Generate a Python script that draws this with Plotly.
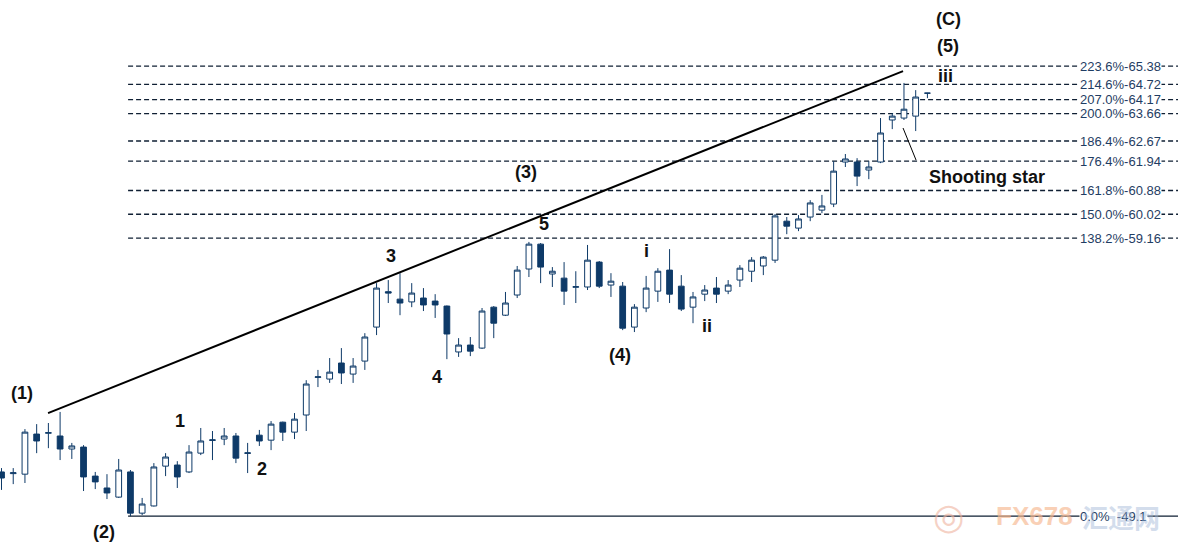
import plotly.graph_objects as go

# ---- candle data (index, open, high, low, close) ----
opens = [50.70, 50.64, 50.62, 52.07, 52.10, 52.00, 51.53, 51.60, 50.55, 50.12,
         49.79, 50.70, 49.21, 49.47, 50.91, 50.95, 50.70, 51.38, 51.84, 51.89,
         52.00, 51.37, 52.03, 51.85, 52.50, 52.14, 52.76, 54.12, 54.06, 54.64,
         54.24, 54.71, 55.94, 57.22, 56.95, 56.85, 56.99, 56.88, 56.70, 55.04,
         55.29, 55.18, 56.66, 56.37, 57.10, 58.04, 58.94, 57.86, 57.71, 57.38,
         57.39, 58.29, 57.46, 57.42, 55.94, 56.63, 57.24, 58.00, 57.42, 56.66,
         57.13, 57.35, 57.24, 57.64, 57.96, 58.15, 58.36, 59.77, 59.52, 59.92,
         60.17, 60.39, 61.91, 61.91, 61.62, 61.91, 63.43, 63.50, 63.57, 64.40]
highs = [50.84, 50.84, 52.25, 52.43, 52.47, 52.87, 51.75, 51.67, 50.70, 50.62,
         51.17, 50.77, 49.76, 51.02, 51.38, 51.09, 51.67, 52.29, 52.18, 52.29,
         52.11, 51.75, 52.22, 52.54, 52.52, 52.83, 54.02, 54.39, 54.82, 55.18,
         54.82, 55.72, 57.53, 57.64, 57.89, 57.53, 57.35, 57.13, 56.72, 55.54,
         55.58, 56.63, 56.70, 57.21, 58.15, 59.02, 58.98, 58.11, 58.29, 57.96,
         58.91, 58.33, 57.89, 57.57, 56.77, 57.79, 58.07, 58.76, 57.82, 57.21,
         57.46, 57.75, 57.64, 58.18, 58.47, 58.51, 60.03, 59.92, 59.99, 60.53,
         60.72, 61.94, 62.20, 62.05, 61.94, 63.50, 63.68, 64.77, 64.51, 64.41]
lows = [50.05, 50.26, 50.30, 51.38, 51.56, 51.13, 51.17, 50.01, 50.08, 49.72,
        49.76, 49.10, 49.14, 49.45, 50.55, 50.12, 50.66, 51.31, 51.13, 51.67,
        51.02, 50.66, 51.64, 51.49, 51.82, 51.89, 52.18, 53.77, 53.92, 53.88,
        53.92, 54.39, 55.65, 56.81, 56.37, 56.66, 56.52, 56.27, 54.78, 54.86,
        54.89, 55.15, 55.54, 56.34, 56.99, 57.75, 57.53, 57.39, 56.74, 56.81,
        57.28, 57.35, 57.03, 55.83, 55.76, 56.48, 56.85, 56.81, 56.52, 56.08,
        56.88, 56.81, 57.13, 57.39, 57.57, 57.82, 58.26, 59.30, 59.41, 59.77,
        60.06, 60.28, 61.73, 61.04, 61.29, 61.87, 63.10, 63.43, 63.03, 64.22]
closes = [50.48, 50.67, 52.14, 51.82, 52.12, 51.53, 51.64, 50.52, 50.34, 49.94,
          50.77, 49.21, 49.54, 50.88, 51.24, 50.52, 51.42, 51.82, 51.86, 52.00,
          51.20, 51.39, 51.82, 52.43, 52.14, 52.61, 53.88, 54.14, 54.31, 54.28,
          54.53, 55.58, 57.35, 57.17, 56.81, 57.17, 56.74, 56.74, 55.69, 55.29,
          55.07, 56.52, 56.08, 56.81, 58.00, 58.94, 58.11, 57.96, 57.24, 57.40,
          58.36, 57.42, 57.60, 55.90, 56.66, 57.35, 57.96, 57.13, 56.59, 57.03,
          57.28, 57.13, 57.46, 58.07, 58.36, 58.47, 59.96, 59.59, 59.85, 60.43,
          60.32, 61.58, 62.02, 61.40, 61.73, 62.96, 63.57, 63.82, 64.26, 64.40]
bars = list(range(len(opens)))

# ---- Fibonacci levels ----
fib_pct = ["223.6%", "214.6%", "207.0%", "200.0%", "186.4%", "176.4%", "161.8%", "150.0%", "138.2%"]
fib_val = [65.38, 64.72, 64.17, 63.66, 62.67, 61.94, 60.88, 60.02, 59.16]
base_pct = "0.0%"
base_val = 49.1
fib_start = 10.8  # bar index where the levels start

# ---- trend line (bar index, price) ----
trend_x = [3.97, 76.92]
trend_y = [52.83, 65.20]

# ---- shooting star pointer ----
star_x = [76.92, 78.03]
star_y = [63.14, 61.98]

# ---- wave labels (text, bar index, price, anchor) ----
wave_labels = [
    ("(1)", 1.75, 53.55, "center"), ("(2)", 8.75, 48.53, "center"),
    ("1", 15.23, 52.54, "center"), ("2", 22.23, 50.80, "center"),
    ("3", 33.23, 58.51, "center"), ("4", 37.16, 54.13, "center"),
    ("(3)", 44.75, 61.54, "center"), ("5", 46.29, 59.67, "center"),
    ("(4)", 52.77, 54.93, "center"), ("i", 54.99, 58.69, "center"),
    ("ii", 60.20, 55.98, "center"), ("(C)", 80.76, 67.08, "center"),
    ("(5)", 80.76, 66.10, "center"), ("iii", 80.50, 65.02, "center"),
    ("Shooting star", 78.97, 61.37, "left"),
]

NAVY = "#0e3a68"
LINE = "#0f1f33"
LABEL = "#1f3d63"
FONT = "Arial, Liberation Sans, sans-serif"

fig = go.Figure()
fig.add_trace(go.Candlestick(
    x=bars, open=opens, high=highs, low=lows, close=closes,
    increasing=dict(fillcolor="white", line=dict(color=NAVY, width=1)),
    decreasing=dict(fillcolor=NAVY, line=dict(color=NAVY, width=1)),
    whiskerwidth=0, showlegend=False, hoverinfo="skip",
))

x_end = 101
for v in fib_val:
    fig.add_shape(type="line", x0=fib_start, x1=x_end, y0=v, y1=v, xref="x", yref="y",
                  line=dict(color=LINE, width=1.3, dash="5px,3px"), layer="below")
fig.add_shape(type="line", x0=fib_start, x1=x_end, y0=base_val, y1=base_val, xref="x", yref="y",
              line=dict(color=LINE, width=1.2), layer="below")

fig.add_shape(type="line", x0=trend_x[0], x1=trend_x[1], y0=trend_y[0], y1=trend_y[1],
              xref="x", yref="y", line=dict(color="black", width=2))
fig.add_shape(type="line", x0=star_x[0], x1=star_x[1], y0=star_y[0], y1=star_y[1],
              xref="x", yref="y", line=dict(color="black", width=1))

label_x = 1079 / 1178
for p, v in zip(fib_pct, fib_val):
    fig.add_annotation(x=label_x, xref="paper", y=v, yref="y", xanchor="left", yanchor="middle",
                       text=f"{p}-{v:.2f}", showarrow=False, bgcolor="white", borderpad=0,
                       font=dict(family=FONT, size=13, color=LABEL))

# watermark
fig.add_annotation(x=966 / 1178, xref="paper", y=base_val, yref="y", text="◎", showarrow=False,
                   font=dict(family=FONT, size=36, color="#f0b4a0"), opacity=0.6)
fig.add_annotation(x=994 / 1178, xref="paper", y=base_val, yref="y", xanchor="left", text="<b>FX678</b>",
                   showarrow=False, font=dict(family=FONT, size=26, color="#f6b890"), opacity=0.65)
fig.add_annotation(x=label_x, xref="paper", y=base_val, yref="y", xanchor="left", yanchor="middle",
                   text=f"{base_pct}\u00a0\u00a0-{base_val}", showarrow=False, bgcolor="white", borderpad=0,
                   font=dict(family=FONT, size=13, color=LABEL))
fig.add_annotation(x=1080 / 1178, xref="paper", y=base_val, yref="y", xanchor="left", text="<b>汇通网</b>",
                   showarrow=False, font=dict(family="Noto Sans CJK SC", size=26, color="#9fb6d6"), opacity=0.45)

for t, xi, p, anc in wave_labels:
    fig.add_annotation(x=xi, y=p, xref="x", yref="y", text=f"<b>{t}</b>", showarrow=False,
                       xanchor=anc, yanchor="middle",
                       font=dict(family=FONT, size=18, color="#111111"))

fig.update_layout(
    width=1178, height=556, margin=dict(l=0, r=0, t=0, b=0),
    paper_bgcolor="white", plot_bgcolor="white",
    xaxis=dict(range=[-0.128, 100.38], visible=False, rangeslider=dict(visible=False), fixedrange=True),
    yaxis=dict(range=[47.66, 67.77], visible=False, fixedrange=True),
    showlegend=False,
)
fig.write_html("out.html", config={"displayModeBar": False},
               post_script="document.body.style.margin='0';document.body.style.overflow='hidden';")
